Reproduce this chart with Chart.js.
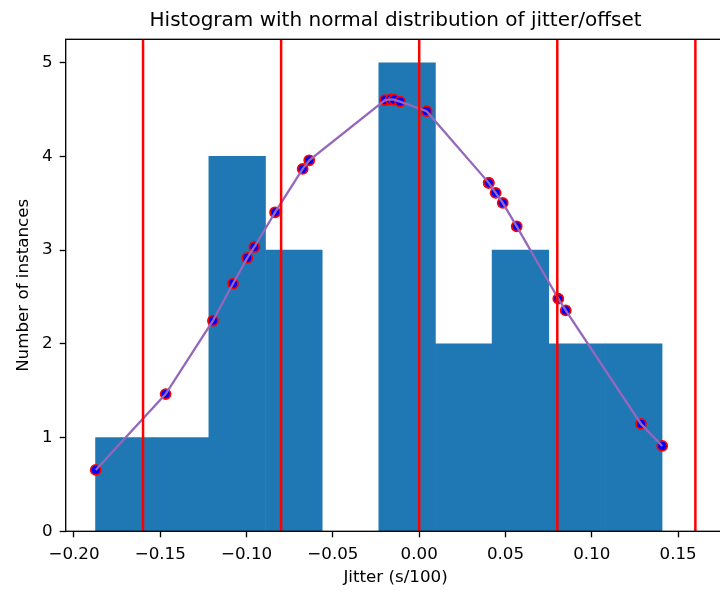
<!DOCTYPE html>
<html>
<head>
<meta charset="utf-8">
<script src="https://cdn.jsdelivr.net/npm/chart.js@4/dist/chart.umd.min.js"></script>
<style>
  html, body { margin: 0; padding: 0; background: #fff; overflow: hidden; width: 720px; height: 592px; }
  #wrap { width: 720px; height: 592px; overflow: hidden; }
  canvas { display: block; }
</style>
</head>
<body>
<div id="wrap"><canvas id="chart" width="728" height="592"></canvas></div>
<script>
// Histogram bins (edges) and the number of samples in each bin
const binEdges  = [-0.1875, -0.1547, -0.1219, -0.0890, -0.0562, -0.0234, 0.0094, 0.0422, 0.0751, 0.1079, 0.1407];
const binCounts = [1, 1, 4, 3, 0, 5, 2, 3, 2, 2];

// Sorted jitter samples and the normal density evaluated at each of them
const jitterX  = [-0.1874, -0.1469, -0.1195, -0.1079, -0.0996, -0.0955, -0.0835, -0.0675, -0.0637,
                  -0.0198, -0.0165, -0.0146, -0.0111, 0.0043, 0.0403, 0.0403, 0.0443, 0.0484,
                  0.0565, 0.0806, 0.0849, 0.1285, 0.1408];
const densityY = [0.655, 1.464, 2.247, 2.642, 2.917, 3.034, 3.404, 3.867, 3.959,
                  4.600, 4.608, 4.606, 4.585, 4.483, 3.718, 3.718, 3.611, 3.504,
                  3.254, 2.482, 2.357, 1.146, 0.911];

// Reference thresholds drawn as vertical lines
const thresholds = [-0.16, -0.08, 0.0, 0.08, 0.16];

// Axis ticks and limits
const xTicks = [-0.20, -0.15, -0.10, -0.05, 0.00, 0.05, 0.10, 0.15];
const yTicks = [0, 1, 2, 3, 4, 5];
const xLimits = [-0.2048, 0.1774];
const yLimits = [0, 5.25];

const FONT = "'DejaVu Sans', 'Liberation Sans', sans-serif";

const histData = binCounts.map((c, i) => ({ x: (binEdges[i] + binEdges[i + 1]) / 2, y: c }));
const curveData = jitterX.map((x, i) => ({ x, y: densityY[i] }));

const thresholdSets = thresholds.map(t => ({
  type: 'line',
  data: [{ x: t, y: yLimits[0] }, { x: t, y: yLimits[1] }],
  borderColor: '#ff0000',
  borderWidth: 2.5,
  pointRadius: 0,
  fill: false,
  order: 0
}));

// Axes frame (all four spines), drawn above the data
const framePlugin = {
  id: 'frame',
  afterDatasetsDraw(chart) {
    const { ctx, chartArea: a } = chart;
    ctx.save();
    ctx.strokeStyle = '#000';
    ctx.lineWidth = 1.33;
    ctx.strokeRect(a.left, a.top, a.right - a.left, a.bottom - a.top);
    ctx.restore();
  }
};

const fmt = v => (v < 0 ? '\u2212' : '') + Math.abs(v).toFixed(2);

new Chart(document.getElementById('chart'), {
  type: 'bar',
  data: {
    datasets: [
      ...thresholdSets,
      {
        type: 'line',
        data: curveData,
        borderColor: '#9467bd',
        borderWidth: 2.3,
        pointRadius: 0,
        tension: 0,
        fill: false,
        order: 1
      },
      {
        type: 'scatter',
        data: curveData,
        backgroundColor: '#0000ff',
        borderColor: '#ff0000',
        pointRadius: 5,
        pointBorderWidth: 1.8,
        order: 2
      },
      {
        type: 'bar',
        data: histData,
        backgroundColor: '#1f77b4',
        borderWidth: 0,
        barPercentage: 1,
        categoryPercentage: 1,
        order: 3
      }
    ]
  },
  options: {
    responsive: false,
    devicePixelRatio: 1,
    animation: false,
    events: [],
    layout: { autoPadding: false, padding: { left: 0, right: 2.6, top: 0, bottom: 0 } },
    plugins: {
      legend: { display: false },
      tooltip: { enabled: false },
      title: {
        display: true,
        fullSize: false,
        text: 'Histogram with normal distribution of jitter/offset',
        color: '#000',
        font: { family: FONT, size: 20, weight: 'normal', lineHeight: 1.2 },
        padding: { top: 9, bottom: 6.3 }
      }
    },
    scales: {
      x: {
        type: 'linear',
        offset: false,
        min: xLimits[0],
        max: xLimits[1],
        afterBuildTicks: s => { s.ticks = xTicks.map(v => ({ value: v })); },
        afterFit: s => { s.height = 60.7; s.paddingLeft = 0; s.paddingRight = 0; },
        ticks: {
          autoSkip: false,
          maxRotation: 0,
          padding: 7,
          color: '#000',
          font: { family: FONT, size: 16.7 },
          callback: v => fmt(v)
        },
        grid: { display: true, offset: false, drawOnChartArea: false, drawTicks: true, tickLength: 6, tickWidth: 1.33, tickColor: '#000', color: '#000' },
        border: { display: false },
        title: {
          display: true,
          text: 'Jitter (s/100)',
          color: '#000',
          font: { family: FONT, size: 16.7, lineHeight: 1.2 },
          padding: { top: 0, bottom: 4 }
        }
      },
      y: {
        type: 'linear',
        min: yLimits[0],
        max: yLimits[1],
        afterBuildTicks: s => { s.ticks = yTicks.map(v => ({ value: v })); },
        afterFit: s => { s.width = 65.7; s.paddingTop = 0; s.paddingBottom = 0; },
        ticks: {
          padding: 7,
          color: '#000',
          font: { family: FONT, size: 16.7 },
          callback: v => String(v)
        },
        grid: { display: true, drawOnChartArea: false, drawTicks: true, tickLength: 6, tickWidth: 1.33, tickColor: '#000', color: '#000' },
        border: { display: false },
        title: {
          display: true,
          text: 'Number of instances',
          color: '#000',
          font: { family: FONT, size: 16.7, lineHeight: 1.2 },
          padding: { top: 14, bottom: 0 }
        }
      }
    }
  },
  plugins: [framePlugin]
});
</script>
</body>
</html>
